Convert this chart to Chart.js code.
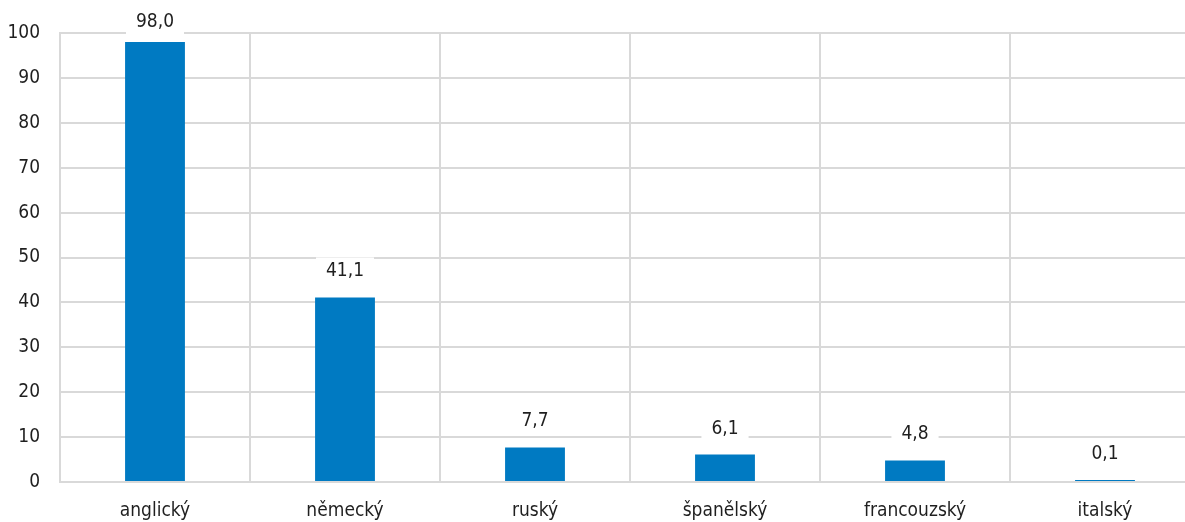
<!DOCTYPE html>
<html>
<head>
<meta charset="utf-8">
<script src="https://cdn.jsdelivr.net/npm/chart.js@4/dist/chart.umd.min.js"></script>
<style>
  html, body { margin: 0; padding: 0; background: #fff; overflow: hidden; }
  #wrap { width: 1200px; height: 522px; }
</style>
</head>
<body>
<div id="wrap"><canvas id="chart"></canvas></div>
<script>
// ===== DATA =====
const languages = ['anglický', 'německý', 'ruský', 'španělský', 'francouzský', 'italský'];
const shares = [98.0, 41.1, 7.7, 6.1, 4.8, 0.1];
const yTicks = [0, 10, 20, 30, 40, 50, 60, 70, 80, 90, 100];

const FONT = '"DejaVu Sans Condensed", "Liberation Sans Narrow", "Roboto", sans-serif';
const TEXT = '#1f1f1f';
const GRID = '#d9d9d9';

// value labels on white boxes above each bar (kept inside the canvas like the original)
const valueLabels = {
  id: 'valueLabels',
  afterDatasetsDraw(chart) {
    const ctx = chart.ctx;
    const meta = chart.getDatasetMeta(0);
    ctx.save();
    ctx.font = '19px ' + FONT;
    ctx.textAlign = 'center';
    ctx.textBaseline = 'middle';
    meta.data.forEach((bar, i) => {
      const txt = shares[i].toFixed(1).replace('.', ',');
      const w = ctx.measureText(txt).width + 20;
      const cy = Math.max(bar.y - 26, 22);
      ctx.fillStyle = '#fff';
      ctx.fillRect(bar.x - w / 2, cy - 14, w, 28);
      ctx.fillStyle = TEXT;
      ctx.fillText(txt, bar.x, cy);
    });
    ctx.restore();
  }
};

new Chart(document.getElementById('chart'), {
  type: 'bar',
  data: {
    labels: languages,
    datasets: [{
      data: shares,
      backgroundColor: '#007ac2',
      categoryPercentage: 1,
      barPercentage: 0.315,
      minBarLength: 2
    }]
  },
  options: {
    responsive: true,
    maintainAspectRatio: false,
    animation: false,
    layout: { padding: { top: 33, right: 0, left: 0, bottom: 0 } },
    plugins: { legend: { display: false }, tooltip: { enabled: false } },
    scales: {
      x: {
        grid: { color: GRID, lineWidth: 2, drawTicks: false, offset: true },
        border: { color: GRID, width: 2 },
        ticks: { color: TEXT, font: { family: FONT, size: 19 }, padding: 18 },
        afterFit: s => { s.height = 40; }
      },
      y: {
        min: 0,
        max: 100,
        afterBuildTicks: s => { s.ticks = yTicks.map(v => ({ value: v })); },
        grid: { color: GRID, lineWidth: 2, drawTicks: false },
        border: { color: GRID, width: 2 },
        ticks: { color: TEXT, font: { family: FONT, size: 19 }, padding: 20 },
        afterFit: s => { s.width = 60; }
      }
    }
  },
  plugins: [valueLabels]
});
</script>
</body>
</html>
